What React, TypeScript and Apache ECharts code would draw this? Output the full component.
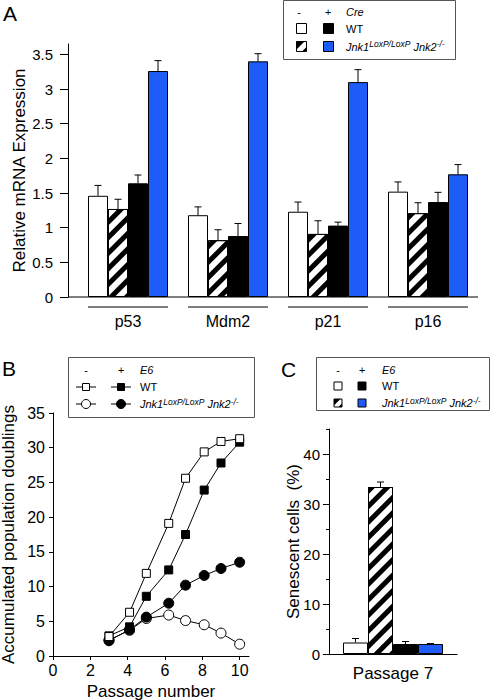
import React, { useEffect, useRef } from "react";
import * as echarts from "echarts";

// ---------- data ----------
const genes = ["p53", "Mdm2", "p21", "p16"];
const wtCreMinus = [1.46, 1.18, 1.23, 1.52];
const wtCreMinusErr = [0.15, 0.12, 0.14, 0.14];
const koCreMinus = [1.27, 0.82, 0.91, 1.21];
const koCreMinusErr = [0.14, 0.15, 0.19, 0.15];
const wtCrePlus = [1.64, 0.88, 1.03, 1.37];
const wtCrePlusErr = [0.12, 0.18, 0.05, 0.14];
const koCrePlus = [3.26, 3.4, 3.1, 1.77];
const koCrePlusErr = [0.15, 0.11, 0.18, 0.14];
const aTicks = [0, 0.5, 1, 1.5, 2, 2.5, 3, 3.5];

const passages = [3, 4.1, 5, 6.2, 7.1, 8.1, 9, 10];
const wtNoE6 = [2.8, 6.3, 11.9, 19.1, 25.6, 29.4, 30.9, 31.3];
const wtE6 = [2.9, 4.2, 8.6, 12.4, 17.5, 23.9, 27.8, 30.8];
const koNoE6 = [2.3, 3.7, 5.4, 5.9, 5.1, 4.5, 3.3, 1.7];
const koE6 = [2.2, 3.8, 5.6, 7.6, 10.2, 11.6, 12.6, 13.5];
const bXTicks = [0, 2, 4, 6, 8, 10];

const cCategories = ["Passage 7"];
const cValues = [2.3, 33.4, 2.0, 2.0];
const cErr = [0.8, 1.0, 0.5, 0.1];
const cTicks = [0, 10, 20, 30, 40];
const cMinorTicks = [5, 15, 25, 35, 45];

// ---------- style ----------
const FONT = "'Liberation Sans', Arial, Helvetica, sans-serif";
const BLUE = "#1d5cf6";
const HATCH = {
  symbol: "rect",
  symbolSize: 1,
  dashArrayX: [1, 0],
  dashArrayY: [5, 6],
  rotation: -Math.PI / 4,
  color: "#000",
};
const fills = [
  { color: "#fff" },
  { color: "#fff", decal: HATCH },
  { color: "#000" },
  { color: BLUE },
];

const GA = { left: 78, top: 44, width: 400, height: 253 };
const A_YOFF = 10;
const A_BAR = 20;
const GB = { left: 53, top: 413, width: 196, height: 243 };
const GC = { left: 329, top: 429, width: 128, height: 225 };
const C_BAR = 25;

function errSeries(xi: number, yi: number, vals: number[], errs: number[], slot: number, barW: number) {
  return {
    type: "custom",
    xAxisIndex: xi,
    yAxisIndex: yi,
    clip: false,
    silent: true,
    z: 5,
    data: vals.map((v, i) => [i, v, errs[i]]),
    encode: { x: 0, y: 1 },
    renderItem: (_p: any, api: any) => {
      const i = api.value(0);
      const v = api.value(1);
      const e = api.value(2);
      const base = api.coord([i, v]);
      const top = api.coord([i, v + e]);
      const x = base[0] + (slot - 1.5) * barW;
      const st = { stroke: "#000", lineWidth: 1 };
      return {
        type: "group",
        children: [
          { type: "line", shape: { x1: x, y1: base[1], x2: x, y2: top[1] }, style: st },
          { type: "line", shape: { x1: x - 3.5, y1: top[1], x2: x + 3.5, y2: top[1] }, style: st },
        ],
      };
    },
  };
}

function txt(x: number, y: number, text: string, size: number, opts: any = {}) {
  return {
    type: "text",
    x,
    y,
    silent: true,
    style: {
      text,
      fill: "#000",
      fontSize: size,
      fontFamily: FONT,
      fontStyle: opts.italic ? "italic" : "normal",
      align: opts.align || "left",
      verticalAlign: "middle",
    },
  };
}

function jnk(x: number, y: number) {
  return {
    type: "text",
    x,
    y,
    silent: true,
    style: {
      text: "{a|Jnk1}{b|LoxP/LoxP}{a| Jnk2}{b|-/-}",
      fill: "#000",
      verticalAlign: "middle",
      align: "left",
      rich: {
        a: { fontSize: 11, fontStyle: "italic", fontFamily: FONT, lineHeight: 14, fill: "#000" },
        b: { fontSize: 8.5, fontStyle: "italic", fontFamily: FONT, lineHeight: 9, verticalAlign: "top", fill: "#000" },
      },
    },
  };
}

function sq(cx: number, cy: number, s: number, fill: string) {
  return {
    type: "rect",
    silent: true,
    shape: { x: cx - s / 2, y: cy - s / 2, width: s, height: s },
    style: { fill, stroke: "#000", lineWidth: 1 },
  };
}

function hatchIcon(cx: number, cy: number, s: number) {
  const x = cx - s / 2;
  const y = cy - s / 2;
  return {
    type: "group",
    silent: true,
    children: [
      sq(cx, cy, s, "#fff"),
      {
        type: "polygon",
        shape: { points: [[x, y], [x + s * 0.8, y], [x, y + s * 0.8]] },
        style: { fill: "#000" },
      },
      {
        type: "polygon",
        shape: { points: [[x + s, y + s * 0.55], [x + s, y + s], [x + s * 0.55, y + s]] },
        style: { fill: "#000" },
      },
    ],
  };
}

function lineMarker(cx: number, cy: number, kind: "sq" | "ci", filled: boolean) {
  const line = {
    type: "line",
    silent: true,
    shape: { x1: cx - 10, y1: cy, x2: cx + 10, y2: cy },
    style: { stroke: "#000", lineWidth: 1 },
  };
  const fill = filled ? "#000" : "#fff";
  const m =
    kind === "sq"
      ? sq(cx, cy, 7, fill)
      : { type: "circle", silent: true, shape: { cx, cy, r: 4.5 }, style: { fill, stroke: "#000", lineWidth: 1 } };
  return { type: "group", children: [line, m] };
}

function boxRect(x: number, y: number, w: number, h: number) {
  return {
    type: "rect",
    silent: true,
    shape: { x: x + 0.5, y: y + 0.5, width: w, height: h },
    style: { fill: "#fff", stroke: "#555", lineWidth: 1 },
    z: -1,
  };
}

const axisText = { color: "#000", fontFamily: FONT };
const blackLine = { show: true, lineStyle: { color: "#000", width: 1 } };

export default function App() {
  const ref = useRef<HTMLDivElement>(null);
  useEffect(() => {
    if (!ref.current) return;
    const chart = echarts.init(ref.current, null, { renderer: "svg" });

    const aBars = [wtCreMinus, koCreMinus, wtCrePlus, koCrePlus].map((d, k) => ({
      type: "bar",
      xAxisIndex: 0,
      yAxisIndex: 0,
      data: d,
      barWidth: A_BAR,
      barGap: "0%",
      itemStyle: { ...fills[k], borderColor: "#000", borderWidth: 1 },
      silent: true,
    }));
    const aErrs = [
      [wtCreMinus, wtCreMinusErr],
      [koCreMinus, koCreMinusErr],
      [wtCrePlus, wtCrePlusErr],
      [koCrePlus, koCrePlusErr],
    ].map(([v, e], k) => errSeries(0, 0, v, e, k, A_BAR));

    const underline = {
      type: "custom",
      xAxisIndex: 0,
      yAxisIndex: 0,
      clip: false,
      silent: true,
      data: genes.map((_g, i) => [i, 0]),
      encode: { x: 0, y: 1 },
      renderItem: (_p: any, api: any) => {
        const p = api.coord([api.value(0), 0]);
        const half = api.size([1, 0])[0] * 0.4;
        return {
          type: "line",
          shape: { x1: p[0] - half, y1: p[1] + 10, x2: p[0] + half, y2: p[1] + 10 },
          style: { stroke: "#000", lineWidth: 1 },
        };
      },
    };

    const mkLine = (d: number[], symbol: string, filled: boolean, size: number) => ({
      type: "line",
      xAxisIndex: 1,
      yAxisIndex: 1,
      data: passages.map((p, i) => [p, d[i]]),
      symbol,
      symbolSize: size,
      showSymbol: true,
      showAllSymbol: true,
      lineStyle: { color: "#000", width: 1 },
      itemStyle: { color: filled ? "#000" : "#fff", borderColor: "#000", borderWidth: 1 },
      silent: true,
    });

    const cBars = cValues.map((v, k) => ({
      type: "bar",
      xAxisIndex: 2,
      yAxisIndex: 2,
      data: [v],
      barWidth: C_BAR,
      barGap: "0%",
      itemStyle: { ...fills[k], borderColor: "#000", borderWidth: 1 },
      silent: true,
    }));
    const cErrs = cValues.map((v, k) => errSeries(2, 2, [v], [cErr[k]], k, C_BAR));

    const graphic = [
      // panel letters
      txt(3, 13, "A", 21),
      txt(2, 368, "B", 21),
      txt(281, 369, "C", 21),
      // A x-axis line (extends under the offset y-axis)
      {
        type: "line",
        silent: true,
        shape: { x1: GA.left - A_YOFF, y1: GA.top + GA.height, x2: GA.left + GA.width, y2: GA.top + GA.height },
        style: { stroke: "#000", lineWidth: 1 },
      },
      // legend A
      boxRect(283, 0, 172, 59),
      txt(299, 12, "-", 11, { align: "center" }),
      txt(328, 12, "+", 11, { align: "center", italic: true }),
      txt(346, 12, "Cre", 11, { italic: true }),
      sq(301.5, 28.5, 10, "#fff"),
      sq(328.5, 28.5, 10, "#000"),
      txt(346, 28.5, "WT", 11),
      hatchIcon(301.5, 46.5, 10),
      sq(328.5, 46.5, 10, BLUE),
      jnk(346, 46.5),
      // legend B
      boxRect(68, 357, 186, 60),
      txt(86, 370, "-", 11, { align: "center" }),
      txt(121, 370, "+", 11, { align: "center", italic: true }),
      txt(140, 370, "E6", 11, { italic: true }),
      lineMarker(86, 387, "sq", false),
      lineMarker(121, 387, "sq", true),
      txt(140, 387, "WT", 11),
      lineMarker(86, 404, "ci", false),
      lineMarker(121, 404, "ci", true),
      jnk(140, 404),
      // legend C
      boxRect(316, 357, 173, 53),
      txt(338, 370, "-", 11, { align: "center" }),
      txt(362, 370, "+", 11, { align: "center", italic: true }),
      txt(382, 370, "E6", 11, { italic: true }),
      sq(338, 386, 8, "#fff"),
      sq(362, 386, 8, "#000"),
      txt(382, 386, "WT", 11),
      hatchIcon(338, 403, 8),
      sq(362, 403, 8, BLUE),
      jnk(382, 403),
    ];

    const option: any = {
      animation: false,
      backgroundColor: "#fff",
      grid: [
        { ...GA, outerBoundsMode: "none", containLabel: false },
        { ...GB, outerBoundsMode: "none", containLabel: false },
        { ...GC, outerBoundsMode: "none", containLabel: false },
      ],
      xAxis: [
        {
          type: "category",
          gridIndex: 0,
          data: genes,
          axisLine: { show: false },
          axisTick: { show: false },
          axisLabel: { ...axisText, fontSize: 16, margin: 16 },
          splitLine: { show: false },
        },
        {
          type: "value",
          gridIndex: 1,
          min: 0,
          max: 10.5,
          interval: 2,
          axisLine: blackLine,
          axisTick: { show: true, inside: false, length: 4, customValues: bXTicks, lineStyle: { color: "#000" } },
          axisLabel: { ...axisText, fontSize: 16, margin: 6, customValues: bXTicks },
          splitLine: { show: false },
          name: "Passage number",
          nameLocation: "middle",
          nameGap: 27,
          nameMoveOverlap: false,
          nameTextStyle: { ...axisText, fontSize: 17 },
        },
        {
          type: "category",
          gridIndex: 2,
          data: cCategories,
          axisLine: blackLine,
          axisTick: { show: false },
          axisLabel: { ...axisText, fontSize: 17, margin: 11 },
          splitLine: { show: false },
        },
      ],
      yAxis: [
        {
          type: "value",
          gridIndex: 0,
          min: 0,
          max: 3.65,
          interval: 0.5,
          offset: A_YOFF,
          axisLine: blackLine,
          axisTick: { show: true, inside: false, length: 8, customValues: aTicks, lineStyle: { color: "#000" } },
          axisLabel: { ...axisText, fontSize: 15, margin: 15, customValues: aTicks },
          splitLine: { show: false },
          name: "Relative mRNA Expression",
          nameLocation: "middle",
          nameGap: 40,
          nameMoveOverlap: false,
          nameTextStyle: { ...axisText, fontSize: 17 },
        },
        {
          type: "value",
          gridIndex: 1,
          min: 0,
          max: 35,
          interval: 5,
          axisLine: blackLine,
          axisTick: { show: true, inside: false, length: 4, lineStyle: { color: "#000" } },
          axisLabel: { ...axisText, fontSize: 16, margin: 8 },
          splitLine: { show: false },
          name: "Accumulated population doublings",
          nameLocation: "middle",
          nameGap: 36,
          nameMoveOverlap: false,
          nameTextStyle: { ...axisText, fontSize: 17 },
        },
        {
          type: "value",
          gridIndex: 2,
          position: "left",
          min: 0,
          max: 45,
          interval: 10,
          axisLine: blackLine,
          axisTick: { show: true, inside: false, length: 6, customValues: cTicks, lineStyle: { color: "#000" } },
          axisLabel: { ...axisText, fontSize: 15, margin: 9, customValues: cTicks },
          splitLine: { show: false },
          name: "Senescent cells  (%)",
          nameLocation: "middle",
          nameGap: 27,
          nameMoveOverlap: false,
          nameTextStyle: { ...axisText, fontSize: 17 },
        },
        {
          type: "value",
          gridIndex: 2,
          position: "left",
          offset: 0,
          min: 0,
          max: 45,
          interval: 5,
          axisLine: { show: false },
          axisTick: { show: true, inside: false, length: 3, customValues: cMinorTicks, lineStyle: { color: "#000" } },
          axisLabel: { show: false },
          splitLine: { show: false },
        },
      ],
      series: [
        ...aBars,
        ...aErrs,
        underline,
        mkLine(koNoE6, "circle", false, 10),
        mkLine(koE6, "circle", true, 10),
        mkLine(wtE6, "rect", true, 8),
        mkLine(wtNoE6, "rect", false, 8),
        ...cBars,
        ...cErrs,
      ],
      graphic,
    };
    chart.setOption(option);
    return () => chart.dispose();
  }, []);
  return (
    <div
      ref={ref}
      style={{ position: "absolute", left: 0, top: 0, width: 492, height: 700, background: "#fff" }}
    />
  );
}
